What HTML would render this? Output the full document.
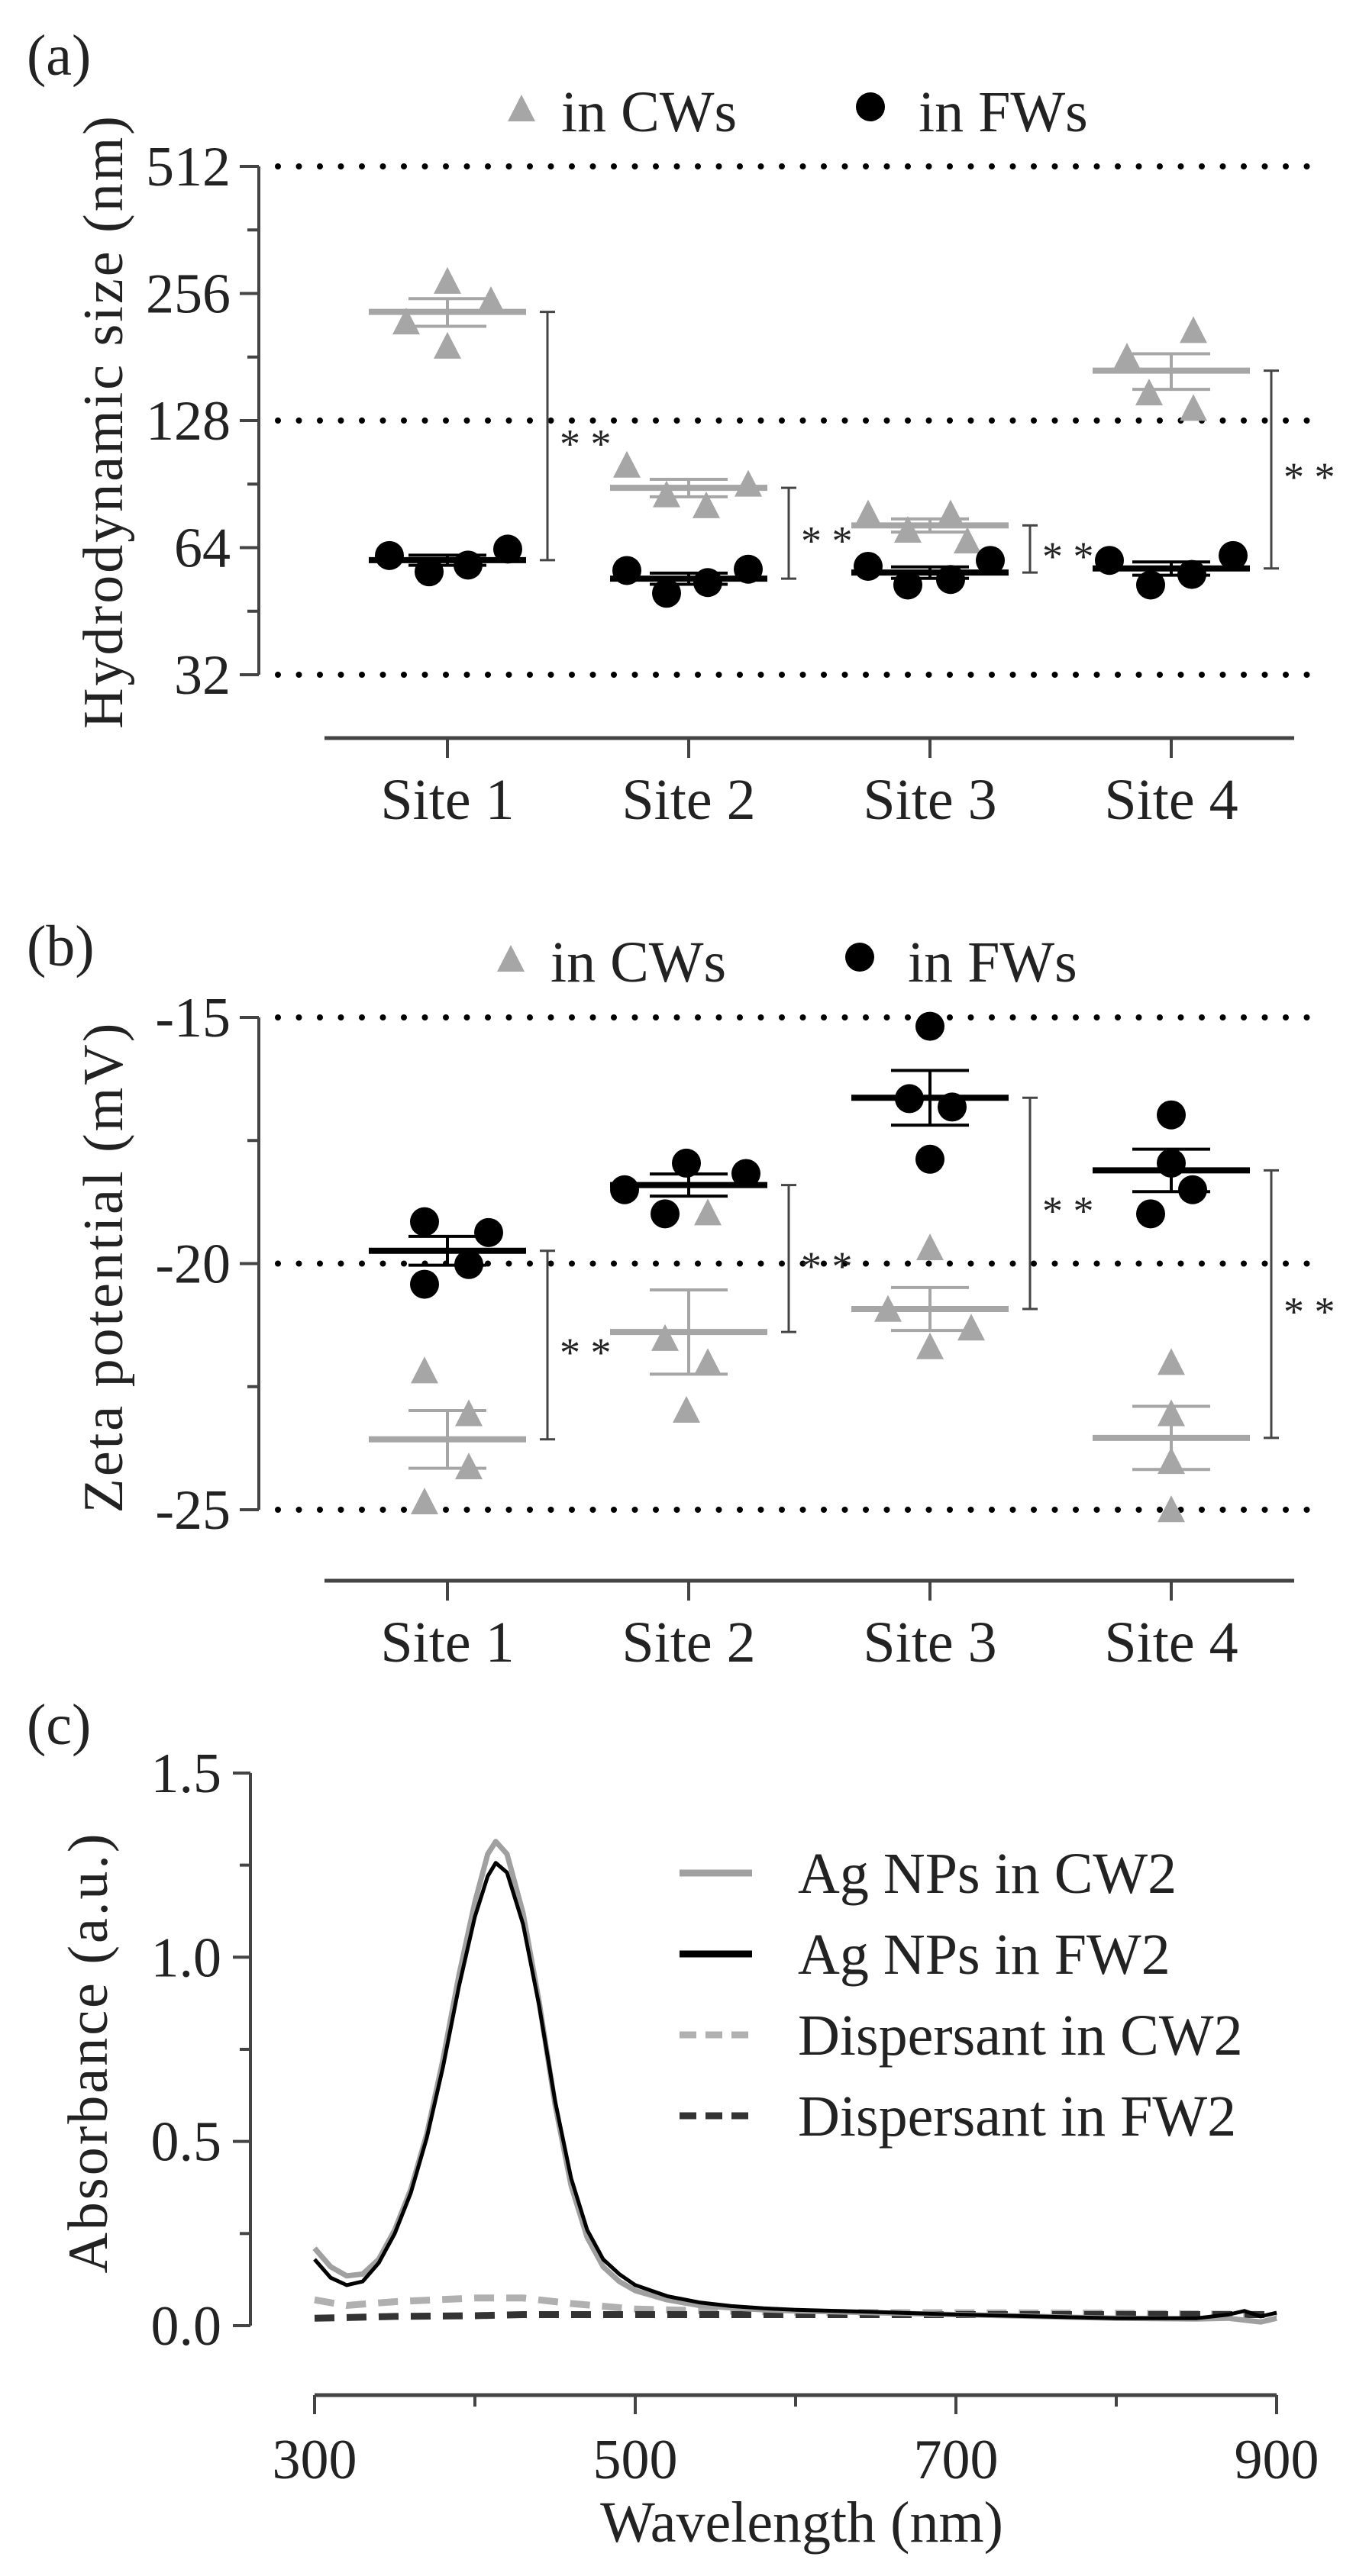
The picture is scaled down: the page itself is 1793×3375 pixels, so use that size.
<!DOCTYPE html>
<html><head><meta charset="utf-8"><style>
html,body{margin:0;padding:0;background:#fff}
svg{display:block}
text{font-family:"Liberation Serif",serif;fill:#222}
</style></head><body>
<svg id="fig" xmlns="http://www.w3.org/2000/svg" width="1793" height="3375" viewBox="0 0 1793 3375"></svg>
<script>
// ---------- data ----------
const sites = ["Site 1","Site 2","Site 3","Site 4"];
// Panel a: hydrodynamic size (nm)
const sizeCW = [[218,272,245,191],[99.8,84.9,80,90],[76.5,70,76.5,66],[180,148,208,136]];
const sizeFW = [[61.3,56.1,58.2,63.5],[56.5,49.9,52.9,56.9],[57.8,52.2,53.8,59.7],[59.7,52.2,55.3,61.3]];
const sizeTicks = [32,64,128,256,512];
const sizeRefLines = [32,128,512];
// Panel b: zeta potential (mV)
const zetaCW = [[-22.2,-23.07,-24.15,-24.86],[-18.99,-21.54,-22.03,-23.0],[-19.7,-20.95,-21.33,-21.71],[-22.03,-23.07,-24.04,-25.02]];
const zetaFW = [[-19.15,-19.37,-20.02,-20.42],[-18.5,-17.96,-18.17,-18.99],[-15.18,-16.65,-16.82,-17.88],[-16.98,-17.96,-18.5,-18.99]];
const zetaTicks = [-15,-20,-25];
const zetaRefLines = [-15,-20,-25];
// Panel c: absorbance spectra
const wl = [300,310,320,330,340,350,360,370,380,390,400,408,413,420,430,440,450,460,470,480,490,500,520,540,560,580,600,650,700,750,800,850,870,880,890,900];
const agCW = [0.21,0.16,0.135,0.14,0.18,0.26,0.37,0.52,0.72,0.95,1.15,1.28,1.314,1.28,1.12,0.88,0.6,0.38,0.24,0.16,0.12,0.095,0.07,0.055,0.048,0.043,0.04,0.035,0.03,0.025,0.02,0.018,0.02,0.015,0.01,0.02];
const agFW = [0.18,0.13,0.11,0.12,0.17,0.25,0.36,0.51,0.7,0.92,1.11,1.22,1.256,1.23,1.09,0.87,0.61,0.4,0.26,0.18,0.14,0.11,0.08,0.063,0.053,0.047,0.043,0.037,0.03,0.025,0.02,0.02,0.03,0.04,0.025,0.035];
const dispWl = [300,320,350,400,430,460,500,550,600,700,800,900];
const dispCW = [0.07,0.055,0.065,0.075,0.075,0.06,0.045,0.04,0.036,0.035,0.034,0.03];
const dispFW = [0.02,0.022,0.025,0.027,0.03,0.03,0.03,0.03,0.03,0.03,0.03,0.03];
const absTicks = [0,0.5,1.0,1.5];
const wlTicks = [300,500,700,900];

// ---------- layout (not data) ----------
const jitA_CW=[[-54,0,57,0],[-81,-29,23,78],[-81,-29,27,49],[-58,-29,29,29]];
const jitA_FW=[[-76,-24,27,79],[-81,-29,25,78],[-81,-29,27,79],[-81,-27,27,81]];
const jitB_CW=[[-30,28,28,-30],[25,-31,25,-3],[0,-55,54,0],[0,0,0,0]];
const jitB_FW=[[-30,54,28,-30],[-84,-3,75,-31],[0,-27,29,0],[0,0,28,-27]];
const NS="http://www.w3.org/2000/svg";
const svg=document.getElementById('fig');
const GRAY="#a6a6a6", DARK="#444";
function el(tag,attrs,parent){const e=document.createElementNS(NS,tag);for(const k in attrs)e.setAttribute(k,attrs[k]);(parent||svg).appendChild(e);return e;}
function line(x1,y1,x2,y2,st,w,p){return el('line',{x1,y1,x2,y2,stroke:st,'stroke-width':w},p);}
function txt(x,y,s,size,anchor,p,extra){const t=el('text',Object.assign({x,y,'font-size':size,'text-anchor':anchor||'start'},extra||{}),p);t.textContent=s;return t;}
const siteX=i=>586+i*316;
function meanSem(a){const m=a.reduce((s,v)=>s+v,0)/a.length;const sd=Math.sqrt(a.reduce((s,v)=>s+(v-m)*(v-m),0)/(a.length-1));return [m,sd/Math.sqrt(a.length)];}
function tri(cx,cy,g,col){const p=el('polygon',{points:`${cx-18},${cy+15} ${cx+18},${cy+15} ${cx},${cy-20}`,fill:col},g);

return p;}
function dot(cx,cy,g){const c=el('circle',{cx,cy,r:19,fill:'#000'},g);

return c;}

function scatterPanel(o){
  const g=el('g',{});
  
  
  const lab=txt(35,o.labY,o.label,76,'start',g);
  
  
  const lg=el('g',{},g);
  
  
  tri(o.legX,o.legY,lg,GRAY);
  txt(o.legX+52,o.legY+28,'in CWs',76,'start',lg);
  dot(o.legX+457,o.legY-4,lg);
  txt(o.legX+520,o.legY+28,'in FWs',76,'start',lg);
  o.refs.forEach(t=>{const y=o.y(t);
    const d=line(364,y,1712,y,'#000',8,g);d.setAttribute('stroke-dasharray','0 27.5');d.setAttribute('stroke-linecap','round');
    
  });
  o.ticks.forEach(t=>{const y=o.y(t);
    line(314,y,339,y,DARK,4,g);
    const tl=txt(302,y+25,o.fmt(t),74,'end',g);
    
  });
  o.minor.forEach(t=>line(324,o.y(t),339,o.y(t),DARK,4,g));
  const ya=line(339,o.y(o.ticks[o.ticks.length-1]),339,o.y(o.ticks[0]),DARK,4,g);
  
  const yt=txt(0,0,o.ytitle,74,'middle',g,{transform:`translate(${o.ytx},${o.yty}) rotate(-90)`,'letter-spacing':'3'});
  
  
  const xa=line(425,o.xAxisY,1695,o.xAxisY,DARK,5,g);
  
  sites.forEach((s,i)=>{line(siteX(i),o.xAxisY,siteX(i),o.xAxisY+26,DARK,4,g);
    const t=txt(siteX(i),o.xAxisY+106,s,76,'middle',g);
    });
  sites.forEach((s,i)=>{
    const cx=siteX(i);
    const cw=o.cw[i], fw=o.fw[i];
    const [mc,sc]=meanSem(cw),[mf,sf]=meanSem(fw);
    cw.forEach((v,k)=>tri(cx+o.jc[i][k],o.y(v),g,GRAY));
    fw.forEach((v,k)=>dot(cx+o.jf[i][k],o.y(v),g));
    [[mc,sc,GRAY],[mf,sf,'#000']].forEach(([m,se,col])=>{
      const ml=line(cx-103,o.y(m),cx+103,o.y(m),col,8,g);
      
      line(cx-51,o.y(m+se),cx+51,o.y(m+se),col,4,g);
      line(cx-51,o.y(m-se),cx+51,o.y(m-se),col,4,g);
      line(cx,o.y(m+se),cx,o.y(m-se),col,4,g);
    });
    const bx=cx+131, y1=o.y(mc), y2=o.y(mf);
    const br=line(bx,y1,bx,y2,DARK,3,g);
    
    line(bx-10,y1,bx+10,y1,DARK,3,g);line(bx-10,y2,bx+10,y2,DARK,3,g);
    const st=txt(bx+16,(y1+y2)/2+28,'* *',54,'start',g,{fill:'#444'});
    
  });
}
const log2=Math.log2;
scatterPanel({name:'panel-a-hydrodynamic-size',label:'(a)',labY:98,legX:683,legY:144,
  ticks:sizeTicks,refs:sizeRefLines,minor:[45.25,90.5,181,362],y:v=>218+(9-log2(v))*166.5,fmt:v=>String(v),
  ytitle:'Hydrodynamic size (nm)',ytx:160,yty:552,xAxisY:967,cw:sizeCW,fw:sizeFW,jc:jitA_CW,jf:jitA_FW});
scatterPanel({name:'panel-b-zeta-potential',label:'(b)',labY:1265,legX:669,legY:1258,
  ticks:zetaTicks,refs:zetaRefLines,minor:[-17.5,-22.5],y:v=>1333+(-15-v)*64.5,fmt:v=>String(v),
  ytitle:'Zeta potential (mV)',ytx:160,yty:1660,xAxisY:2071,cw:zetaCW,fw:zetaFW,jc:jitB_CW,jf:jitB_FW});

// ---------- panel c ----------
(function(){
  const g=el('g',{});
  
  
  const X=w=>412+(w-300)*2.1, Y=a=>3047-a*482.7;
  const lab=txt(35,2285,'(c)',76,'start',g);
  
  const ya=line(328,Y(1.5),328,Y(0),DARK,4,g);
  
  absTicks.forEach(t=>{line(305,Y(t),328,Y(t),DARK,4,g);
    const l=txt(290,Y(t)+25,t.toFixed(1),74,'end',g);
    });
  [0.25,0.75,1.25].forEach(t=>line(314,Y(t),328,Y(t),DARK,4,g));
  const xa=line(412,3138,1672,3138,DARK,5,g);
  
  for(let w=300;w<=900;w+=100){line(X(w),3138,X(w),w%200===100?3163:3153,DARK,4,g);}
  wlTicks.forEach(w=>{const l=txt(X(w),3247,String(w),74,'middle',g);
    });
  const xt=txt(1050,3330,'Wavelength (nm)',76,'middle',g);
  
  const yt=txt(0,0,'Absorbance (a.u.)',74,'middle',g,{transform:'translate(140,2689) rotate(-90)','letter-spacing':'3'});
  
  const path=(xs,ys)=>xs.map((w,i)=>(i?'L':'M')+X(w).toFixed(1)+','+Y(ys[i]).toFixed(1)).join(' ');
  const s1=el('path',{d:path(dispWl,dispCW),fill:'none',stroke:'#b0b0b0','stroke-width':9,'stroke-dasharray':'26 16'},g);
  
  const s2=el('path',{d:path(dispWl,dispFW),fill:'none',stroke:'#333','stroke-width':9,'stroke-dasharray':'26 16'},g);
  
  const s3=el('path',{d:path(wl,agCW),fill:'none',stroke:'#a0a0a0','stroke-width':7,'stroke-linejoin':'round'},g);
  
  const s4=el('path',{d:path(wl,agFW),fill:'none',stroke:'#000','stroke-width':5,'stroke-linejoin':'round'},g);
  
  const lg=el('g',{},g);
  
  
  const items=[['Ag NPs in CW2','#a0a0a0',null],['Ag NPs in FW2','#000',null],['Dispersant in CW2','#b0b0b0','22 12'],['Dispersant in FW2','#333','22 12']];
  items.forEach((it,i)=>{const y=2454+i*106;
    const l=line(890,y,985,y,it[1],9,lg); if(it[2])l.setAttribute('stroke-dasharray',it[2]);
    
    const t=txt(1045,y+26,it[0],76,'start',lg);
    });
})();
</script>
</body></html>
